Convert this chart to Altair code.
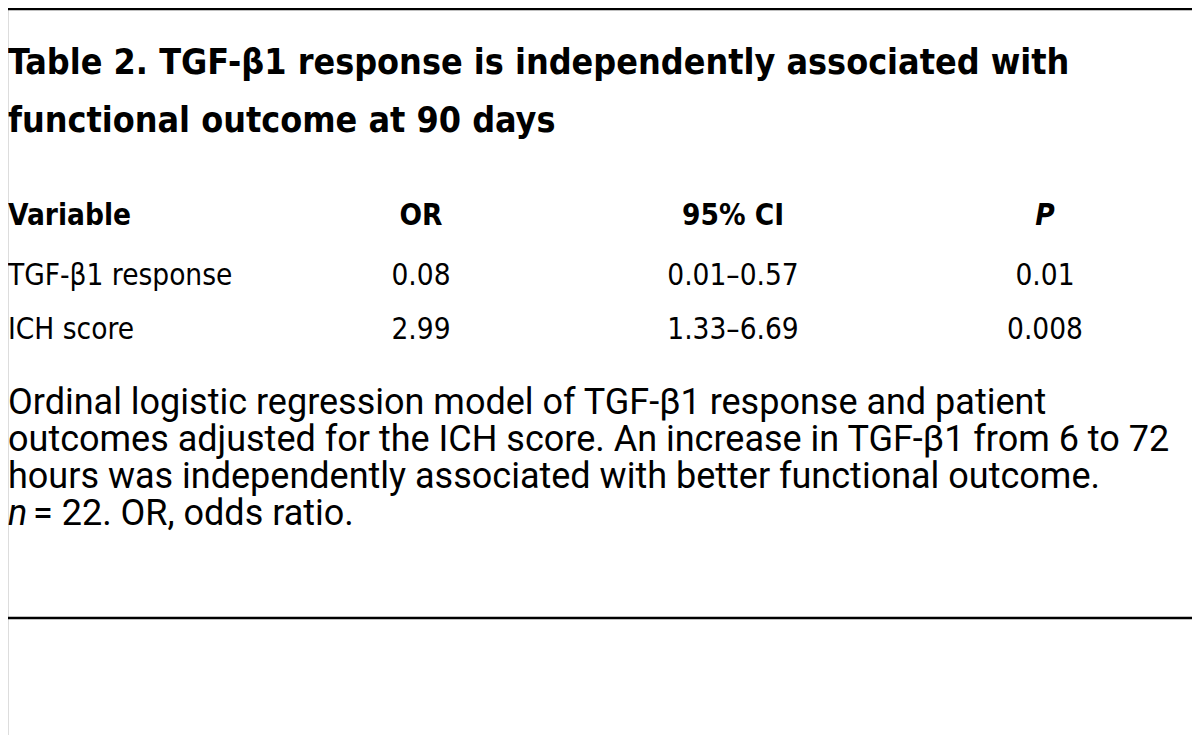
import altair as alt
import pandas as pd

# ---- content ----
title_lines = ["Table 2. TGF-\u03b21 response is independently associated with",
               "functional outcome at 90 days"]
columns = ["Variable", "OR", "95% CI", "P"]
variables = ["TGF-\u03b21 response", "ICH score"]
or_values = ["0.08", "2.99"]
ci_values = ["0.01\u20130.57", "1.33\u20136.69"]
p_values = ["0.01", "0.008"]
note_lines = ["Ordinal logistic regression model of TGF-\u03b21 response and patient",
              "outcomes adjusted for the ICH score. An increase in TGF-\u03b21 from 6 to 72",
              "hours was independently associated with better functional outcome."]
note_n = "n"
note_last = "= 22. OR, odds ratio."

# ---- layout ----
W, H = 1184, 727
TABLE_FONT = "DejaVu Sans Condensed"
NOTE_FONT = "Roboto"
TITLE_SIZE = 35.6
TABLE_SIZE = 29.5
NOTE_SIZE = 36

def S(domain, rng):
    return alt.Scale(domain=domain, range=rng, nice=False, zero=False)

body_rows = []
for i, v in enumerate(variables):
    for c, t in enumerate([v, or_values[i], ci_values[i], p_values[i]]):
        body_rows.append({"r": i + 1, "c": c, "text": t})
body_df = pd.DataFrame(body_rows)
head_df = pd.DataFrame({"r": [0] * 4, "c": list(range(4)), "text": columns})

title_df = pd.DataFrame({"line": [0, 1], "text": title_lines})
note_df = pd.DataFrame({"line": [0, 1, 2], "text": note_lines})
last_df = pd.DataFrame({"line": [3], "n": [note_n], "text": [note_last]})
rules_df = pd.DataFrame({"pos": [0, 1]})

X = alt.X("c:Q", scale=S([0, 1, 2, 3], [0, 413, 725, 1037]), axis=None)
Y = alt.Y("r:Q", scale=S([0, 1, 2], [208, 268, 322]), axis=None)
NY = alt.Y("line:Q", scale=S([0, 3], [395, 506]), axis=None)

rules = alt.Chart(rules_df).mark_rule(color="black", strokeWidth=2.5).encode(
    y=alt.Y("pos:Q", scale=S([0, 1], [1, 610]), axis=None),
    x=alt.value(0), x2=alt.value(W))

title = alt.Chart(title_df).mark_text(
    align="left", baseline="middle", font=TABLE_FONT, fontSize=TITLE_SIZE,
    fontWeight="bold", color="black").encode(
    x=alt.value(0),
    y=alt.Y("line:Q", scale=S([0, 1], [55, 113]), axis=None),
    text="text:N")

head_left = alt.Chart(head_df[head_df.c == 0]).mark_text(
    align="left", baseline="middle", font=TABLE_FONT, fontSize=TABLE_SIZE,
    fontWeight="bold", color="black").encode(x=X, y=Y, text="text:N")
head_center = alt.Chart(head_df[head_df.c.isin([1, 2])]).mark_text(
    align="center", baseline="middle", font=TABLE_FONT, fontSize=TABLE_SIZE,
    fontWeight="bold", color="black").encode(x=X, y=Y, text="text:N")
head_p = alt.Chart(head_df[head_df.c == 3]).mark_text(
    align="center", baseline="middle", font=TABLE_FONT, fontSize=TABLE_SIZE,
    fontWeight="bold", fontStyle="italic", color="black").encode(x=X, y=Y, text="text:N")

body_left = alt.Chart(body_df[body_df.c == 0]).mark_text(
    align="left", baseline="middle", font=TABLE_FONT, fontSize=TABLE_SIZE,
    color="black").encode(x=X, y=Y, text="text:N")
body_center = alt.Chart(body_df[body_df.c != 0]).mark_text(
    align="center", baseline="middle", font=TABLE_FONT, fontSize=TABLE_SIZE,
    color="black").encode(x=X, y=Y, text="text:N")

notes = alt.Chart(note_df).mark_text(
    align="left", baseline="middle", font=NOTE_FONT, fontSize=NOTE_SIZE,
    color="black").encode(x=alt.value(0), y=NY, text="text:N")
note_n_mark = alt.Chart(last_df).mark_text(
    align="left", baseline="middle", font=NOTE_FONT, fontSize=NOTE_SIZE,
    fontStyle="italic", color="black").encode(x=alt.value(0), y=NY, text="n:N")
note_rest = alt.Chart(last_df).mark_text(
    align="left", baseline="middle", font=NOTE_FONT, fontSize=NOTE_SIZE, dx=25,
    color="black").encode(x=alt.value(0), y=NY, text="text:N")

chart = alt.layer(
    rules, title, head_left, head_center, head_p, body_left, body_center,
    notes, note_n_mark, note_rest
).resolve_scale(x="independent", y="independent").properties(
    width=W, height=H, autosize=alt.AutoSizeParams(type="none"), padding=0
).configure_view(stroke=None).configure(background="white")

chart.save("out.html", embed_options={"renderer": "svg", "actions": False})
